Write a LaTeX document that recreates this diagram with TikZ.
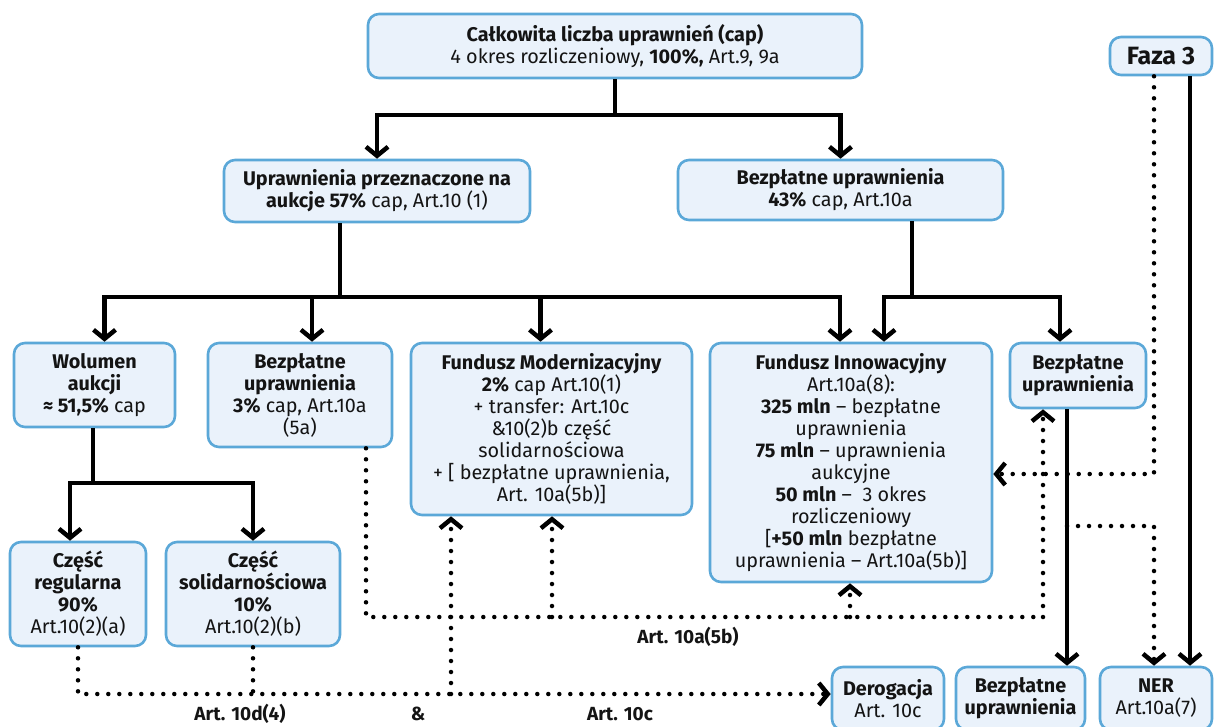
\documentclass[tikz,border=0pt]{standalone}
\usepackage{fontspec}
\setmainfont{Fira Sans}
\usetikzlibrary{arrows.meta,calc}

\definecolor{boxfill}{HTML}{EAF2FB}
\definecolor{boxline}{HTML}{5BA8D8}
\definecolor{ink}{HTML}{141414}

\tikzset{
  box/.style={draw=boxline, fill=boxfill, line width=2.6pt, rounded corners=11pt,
    align=center, inner sep=0pt, text=ink, font=\fontsize{19.8}{22}\selectfont},
  tip/.style={-{Straight Barb[length=9pt,width=22pt,line width=4.5pt]}},
  flowline/.style={line width=4.5pt, draw=black},
  flow/.style={flowline, tip},
  dotline/.style={line width=4.5pt, line cap=round, dash pattern=on 0pt off 11pt},
  dotflow/.style={dotline, tip},
  lbl/.style={font=\fontsize{19}{22}\selectfont\bfseries, text=ink, inner sep=0pt}
}

\begin{document}
\begin{tikzpicture}[x=1pt,y=-1pt]
\useasboundingbox (0,0) rectangle (1215,726);

% boxes
\node[box, minimum width=494pt, minimum height=64pt] (cap) at (615,46)
  {\textbf{Całkowita liczba uprawnień (cap)}\\4 okres rozliczeniowy, \textbf{100\%,} Art.9, 9a};
\node[box, minimum width=306pt, minimum height=62pt] (auk) at (377,191)
  {\textbf{Uprawnienia przeznaczone na}\\\textbf{aukcje 57\%} cap, Art.10 (1)};
\node[box, minimum width=325pt, minimum height=60pt] (bez43) at (840.5,190)
  {\textbf{Bezpłatne uprawnienia}\\\textbf{43\%} cap, Art.10a};
\node[box, minimum width=161pt, minimum height=84pt] (wol) at (94.5,385)
  {\textbf{Wolumen}\\\textbf{aukcji}\\\textbf{≈ 51,5\%} cap};
\node[box, minimum width=184pt, minimum height=104pt] (bez3) at (300,395)
  {\textbf{Bezpłatne}\\\textbf{uprawnienia}\\\textbf{3\%} cap, Art.10a\\(5a)};
\node[box, minimum width=281pt, minimum height=172pt] (fm) at (551.5,429)
  {\textbf{Fundusz Modernizacyjny}\\\textbf{2\%} cap Art.10(1)\\+ transfer: Art.10c\\\&10(2)b część\\solidarnościowa\\+ [ bezpłatne uprawnienia,\\Art. 10a(5b)]};
\node[box, minimum width=282pt, minimum height=239pt] (fi) at (851,462.5)
  {\textbf{Fundusz Innowacyjny}\\Art.10a(8):\\\textbf{325 mln} – bezpłatne\\uprawnienia\\\textbf{75 mln} – uprawnienia\\aukcyjne\\\textbf{50 mln} –~ 3 okres\\rozliczeniowy\\{[}\textbf{+50 mln} bezpłatne\\uprawnienia – Art.10a(5b)]};
\node[box, minimum width=136pt, minimum height=65pt] (bezR) at (1078,375.5)
  {\textbf{Bezpłatne}\\\textbf{uprawnienia}};
\node[box, minimum width=136pt, minimum height=104pt] (reg) at (78,594)
  {\textbf{Część}\\\textbf{regularna}\\\textbf{90\%}\\Art.10(2)(a)};
\node[box, minimum width=174pt, minimum height=104pt] (sol) at (253,594)
  {\textbf{Część}\\\textbf{solidarnościowa}\\\textbf{10\%}\\Art.10(2)(b)};
\node[box, minimum width=102pt, minimum height=38pt, font=\fontsize{25}{26}\selectfont\bfseries] (faza) at (1161,56)
  {Faza 3};
\node[box, minimum width=112pt, minimum height=63pt] (der) at (888,698.5)
  {\textbf{Derogacja}\\Art. 10c};
\node[box, minimum width=129pt, minimum height=63pt] (bezB) at (1020.5,698.5)
  {\textbf{Bezpłatne}\\\textbf{uprawnienia}};
\node[box, minimum width=112pt, minimum height=63pt] (ner) at (1156,698.5)
  {\textbf{NER}\\Art.10a(7)};

% connector labels
\node[lbl] (l5b) at (688,637) {Art. 10a(5b)};
\node[lbl] (l10d) at (240,714) {Art. 10d(4)};
\node[lbl] (land) at (418,714) {\&};
\node[lbl] (l10c) at (620,714) {Art. 10c};

% junction points
\coordinate (capj) at (615,115);
\coordinate (aukj) at (340,297);
\coordinate (bezj) at (912,297);
\coordinate (wolj) at (93,483);
\coordinate (fzs) at (1190,0);
\coordinate (fzd) at (1154,474);
\coordinate (brs) at (1067,0);
\coordinate (brd) at (1067,526);
\coordinate (nerd) at (1154,0);
\coordinate (art10) at (451,694);
\coordinate (rowb) at (0,694);
\coordinate (b5a) at (366,617);
\coordinate (b5b) at (1043,617);
\coordinate (fm5b) at (552,617);
\coordinate (fi5b) at (850,617);

% solid allocation flows
\draw[flow] (cap.south) -- (capj) -| (auk.north);
\draw[flow] (capj) -| (bez43.north);

\draw[flowline] (auk.south -| aukj) -- (aukj);
\draw[flow] (aukj) -| ([xshift=10pt]wol.north);
\draw[flow] (aukj) -| ([xshift=12pt]bez3.north);
\draw[flow] (aukj) -| ([xshift=-11pt]fm.north);
\draw[flow] (aukj) -| ([xshift=-11pt]fi.north);

\draw[flowline] (bez43.south -| bezj) -- (bezj);
\draw[flow] (bezj) -| ([xshift=33pt]fi.north);
\draw[flow] (bezj) -| ([xshift=-18pt]bezR.north);

\draw[flowline] (wol.south -| wolj) -- (wolj);
\draw[flow] (wolj) -| ([xshift=-8pt]reg.north);
\draw[flow] (wolj) -| (sol.north);

\draw[flow] (faza.south -| fzs) -- (ner.north -| fzs);
\draw[flow] (bezR.south -| brs) -- (bezB.north -| brs);

% dotted transfers
\draw[dotflow] (reg.south) |- (der.west |- rowb);
\draw[dotline] (sol.south) -- (sol.south |- rowb);
\draw[dotflow] (art10) -- (fm.south -| art10);

\draw[dotline] (bez3.south -| b5a) -- (b5a) -- (b5b);
\draw[dotflow] (b5b) -- (bezR.south -| b5b);
\draw[dotflow] (fm5b) -- (fm.south -| fm5b);
\draw[dotflow] (fi5b) -- (fi.south -| fi5b);

\draw[dotflow] (faza.south -| fzd) -- (fzd) -- (fi.east |- fzd);
\draw[dotflow] (brd) -| (ner.north -| nerd);
\end{tikzpicture}
\end{document}
